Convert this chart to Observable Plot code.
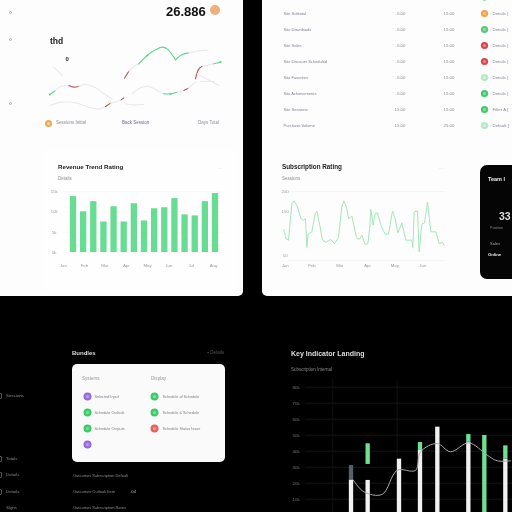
<!DOCTYPE html>
<html><head><meta charset="utf-8">
<script src="https://cdn.jsdelivr.net/npm/d3@7"></script>
<script src="https://cdn.jsdelivr.net/npm/@observablehq/plot@0.6"></script>
<style>
html,body{margin:0;padding:0;background:#000;overflow:hidden}
#root{position:relative;width:512px;height:512px;overflow:hidden;background:#000;font-family:"Liberation Sans",Arial,sans-serif}
#root>*{position:absolute}
.p{position:absolute;background:#fdfdfd}
.t{position:absolute;white-space:nowrap;line-height:1}
svg{background:transparent!important;display:block}
</style></head><body><div id="root"></div>
<script>
// ---- bar chart
const barValues=[13.75,10,12.5,7.5,11.25,7.5,12,7.75,10.75,11,13.25,9.25,9,12.5,14.5];
const barTickIdx=[-1,1.07,3.1,5.2,7.3,9.4,11.6,13.8];
const barTickLabels=["Jan","Feb","Mar","Apr","May","Jun","Jul","Aug"];
const barYTicks=[0,5,10,15];
const barYLabels=["0k","5k","10k","15k"];
// ---- spike line chart
const spikeT=[64,70,78,88,95,105,115,122,129,133,137,148,158,163,170,180,190,205,216,228,238,244,252,258,268,282,290,298,308,316,322,325,332,338,345,355,368,378,390,398,406,418,430,448,451,455,465,470,478,486,495,505,520,530,540,545];
const spikeV=[81,53,48,162,171,152,115,110,115,25,67,74,131,139,105,48,41,50,37,56,152,171,152,115,123,56,50,63,34,37,89,144,95,131,133,95,66,67,139,115,71,102,48,48,25,136,139,11,98,102,167,74,74,37,41,32];
const spikeTickT=[68,148,232,315,397,481];
const spikeTickLabels=["Jan","Feb","Mar","Apr","May","Jun"];
const spikeYTicks=[0,137,200];
const spikeYLabels=["10","150","200"];
// ---- top multi-line chart
const green="#5fd68a",red="#b5544e",gray="#e9e9ee";
const topSegments=[
 [red,[372,385],[157,178]],[gray,[385,400,415],[178,192,200]],
 [green,[415,440,465,485,500,525],[200,225,242,250,245,212]],
 [green,[525,545,565],[212,228,233]],[gray,[565,590,620],[233,238,242]],
 [green,[148,165],[108,120]],[gray,[165,180,205],[120,132,135]],[red,[205,220,235],[135,130,133]],
 [gray,[235,255,285,310,335],[133,138,128,110,95]],
 [gray,[395,420,445,470,490],[110,128,132,120,110]],[green,[490,510,530],[110,110,115]],
 [gray,[530,550],[115,120]],[red,[550,563],[120,127]],[gray,[563,585],[127,145]],
 [red,[585,595,605],[155,185,193]],[gray,[605,640],[193,200]],[green,[640,660],[200,205]],
 [gray,[148,185,230,265,295,315],[75,85,82,70,65,72]],[red,[315,330],[72,82]],[gray,[330,360],[82,90]],
 [red,[362,370],[92,98]],[gray,[370,385,430],[85,78,78]],
 [gray,[160,185],[190,165]],[gray,[590,655],[170,135]],[gray,[600,640],[147,147]]
];
// ---- table
const tableNames=["Site Subtotal","Site Downloads","Site Sales","Site Discount Scheduled","Site Favorites","Site Achievements","Site Sessions","Purchase Volume"];
const tableCol2=["0.00","0.00","0.00","0.00","0.00","0.00","15.00","15.00"];
const tableCol3=["15.00","15.00","15.00","15.00","15.00","15.00","15.00","25.00"];
const tableStatus=["Details [","Details [","Details [","Details [","Details [","Details [","Filter A [","Default ["];
const tableColors=["#f0a33c","#58c878","#d8434c","#d8434c","#b4eac4","#3ecb6a","#3ecb6a","#b4eac4"];
// ---- card list
const cardLeftLabels=["Selected Input","Schedule Outlook","Schedule Outputs",""];
const cardLeftColors=["#9a6be0","#3ecb6a","#3ecb6a","#9a6be0"];
const cardRightLabels=["Schedule of Schedule","Schedule & Schedule","Schedule Status Issue"];
const cardRightColors=["#3ecb6a","#3ecb6a","#e8635c"];
// ---- dark chart
const darkYTicks=[10,20,30,40,50,60,70,80];
const darkGridT=[187,380];
const darkBars=[243,293,387,450,502,595,643,706];
const darkWhiteTop=[22,21.7,35,40.4,55,45.6,0,35];
const darkGreenLow=[22,31.7,35,40.4,55,45.6,0,35];
const darkGreenTop=[22,44.6,35,45.4,55,50.4,49.8,43.3];
const darkLineT=[248,280,335,380,435,450,500,540,595,650,680,720];
const darkLineV=[22,14.6,13,28,28,39.6,44.8,39.6,45.2,37.5,34,34];

const root=document.getElementById("root");
function panel(x,y,w,h,bg,radius,extra){const d=document.createElement("div");d.className="p";
 d.style.cssText=`left:${x}px;top:${y}px;width:${w}px;height:${h}px;background:${bg};border-radius:${radius||"0"};${extra||""}`;root.appendChild(d);}
function text(x,y,s,size,color,weight,anchor){const d=document.createElement("div");d.className="t";d.textContent=s;
 d.style.cssText=`left:${x}px;top:${y-size/2}px;font-size:${size}px;color:${color};font-weight:${weight||400};${anchor=="end"?"transform:translateX(-100%);":""}`;root.appendChild(d);}
function place(x,y,plot){plot.style.position="absolute";plot.style.left=x+"px";plot.style.top=y+"px";root.appendChild(plot);}
const base={style:{background:"transparent",fontFamily:"Liberation Sans"},axis:null};

// panels
panel(0,0,243,296,"#fdfdfd","0 0 5px 0");
panel(262,0,250,296,"#fdfdfd","0 0 0 5px");
panel(44,150,192,140,"#fefefe","4px");
panel(72,364,153,98,"#fafafa","5px");
panel(480,165,40,114,"#050505","7px");

// top-left chart
const topData=topSegments.flatMap(([c,t,v],i)=>t.map((x,j)=>({x,y:v[j],c,i})));
place(0,0,Plot.plot({...base,width:256,height:140,margin:0,
 x:{domain:[0,768],range:[0,256]},y:{domain:[0,390],range:[130,0]},
 marks:[Plot.line(topData,{x:"x",y:"y",z:"i",stroke:"c",strokeWidth:1.1,curve:"catmull-rom"}),
  Plot.dot(topData.filter(d=>d.c==green&&(d.x==148||d.x==660||d.x==440||d.x==510)),{x:"x",y:"y",r:1.1,fill:green})]}));
text(166,11,"26.886",13,"#111",700);
panel(210,5,10,10,"#eeb07c","50%");
text(50,41,"thd",8.5,"#222",700);
text(65.5,59,"0",6,"#223",700);
[[10,12],[10,39],[10,103]].forEach(([x,y])=>panel(x-1.5,y-1.5,3,3,"transparent","50%","box-sizing:border-box;border:1px solid #aaa;"));
panel(45,120,7,7,"#f0a850","50%");panel(47,122,3,3,"#fbd9a8","50%");
text(56,123,"Sessions Initial",4.5,"#8a8f9c");
text(122,123,"Back Session",4.5,"#6a6f90");
text(219,123,"Days Total",4.5,"#8a8f9c",400,"end");

// table
const rowIdx=d3.range(tableNames.length);
const tx=(arr)=>i=>arr[i];
place(256,0,Plot.plot({...base,width:256,height:140,margin:0,
 x:{domain:[0,256],range:[0,256]},y:{domain:[-1,7],range:[-3,125]},
 marks:[
  Plot.text(rowIdx,{x:()=>27,y:d=>d,text:tx(tableNames),textAnchor:"start",fontSize:4,fill:"#7d828e"}),
  Plot.text(rowIdx,{x:()=>149,y:d=>d,text:tx(tableCol2),textAnchor:"end",fontSize:4.4,fill:"#858a96"}),
  Plot.text(rowIdx,{x:()=>198,y:d=>d,text:tx(tableCol3),textAnchor:"end",fontSize:4.4,fill:"#858a96"}),
  Plot.dot(rowIdx,{x:()=>228,y:d=>d,r:3.6,fill:tx(tableColors)}),
  Plot.dot(rowIdx,{x:()=>228,y:d=>d,r:1.5,fill:"#fff",fillOpacity:.4}),
  Plot.dot([-1],{x:()=>228,y:d=>d,r:3,fill:"#58c878"}),
  Plot.text(rowIdx,{x:()=>236,y:d=>d,text:tx(tableStatus),textAnchor:"start",fontSize:4.4,fill:"#858a96"})
 ]}));

// bar chart
text(58,167,"Revenue Trend Rating",6.2,"#222",700);
text(58,179,"Details",4.5,"#8d8f98");
text(217,168,"···",5,"#ccc");
const barIdx=d3.range(barValues.length);
place(44,180,Plot.plot({...base,width:190,height:95,marginTop:11,marginBottom:23,marginLeft:0,marginRight:0,
 x:{domain:[0,14],range:[29,171]},y:{domain:[0,15],range:[72,11]},
 marks:[
  Plot.ruleY(barYTicks,{y:d=>d,x1:-1,x2:14.7,stroke:"#f5f5f5",strokeWidth:.6}),
  Plot.rectY(barIdx,{x1:i=>i-.31,x2:i=>i+.31,y1:0,y2:i=>barValues[i],fill:"#66dd92"}),
  Plot.text(barYTicks,{x:()=>-1.9,y:d=>d,text:(d,i)=>barYLabels[i],textAnchor:"middle",fontSize:4.3,fill:"#9a9a9a"}),
  Plot.text(barTickIdx,{x:d=>d,y:()=>-3.3,text:(d,i)=>barTickLabels[i],fontSize:4.3,fill:"#9a9a9a"})
 ]}));

// spike chart
text(282,167,"Subscription Rating",6.3,"#222",700);
text(282,179,"Sessions",4.5,"#8d8f98");
text(439,168,"···",5,"#ccc");
const spikeData=spikeT.map((t,i)=>({t,v:spikeV[i]}));
place(262,180,Plot.plot({...base,width:190,height:95,margin:0,
 x:{domain:[0,570],range:[0,190]},y:{domain:[0,200],range:[75,11]},
 marks:[
  Plot.ruleY([200,-16],{x1:78,x2:548,stroke:"#f1f1f1",strokeWidth:.7}),
  Plot.line(spikeData,{x:"t",y:"v",stroke:"#a5e6bb",strokeWidth:1}),
  Plot.text(spikeYTicks,{x:()=>68,y:d=>d,text:(d,i)=>spikeYLabels[i],fontSize:4.3,fill:"#9a9a9a"}),
  Plot.text(spikeTickT,{x:d=>d,y:()=>-31,text:(d,i)=>spikeTickLabels[i],fontSize:4.3,fill:"#9a9a9a"})
 ]}));

// phone card text
text(488,180,"Team l",5.5,"#eee",700);
text(499,216,"33",10.5,"#ddd",700);
text(490,229,"Position",3.6,"#888");
text(490,244,"Sales",4,"#aaa");
text(488,255,"Online",4.2,"#eee",700);

// bottom-left
text(72,353,"Bundles",6,"#ddd",700);
text(224,353,"▪ Details",4.5,"#555",400,"end");
text(82,379,"Systems",4.6,"#9a9aa2");
text(151,379,"Display",4.6,"#9a9aa2");
place(72,364,Plot.plot({...base,width:153,height:98,margin:0,
 x:{domain:[0,153],range:[0,153]},y:{domain:[0,3],range:[32,80]},
 marks:[
  Plot.dot(cardLeftColors,{x:()=>15,y:(d,i)=>i,r:4,fill:d=>d}),
  Plot.dot(cardRightColors,{x:()=>82,y:(d,i)=>i,r:4,fill:d=>d}),
  Plot.dot(cardLeftColors,{x:()=>15,y:(d,i)=>i,r:1.6,fill:"#fff",fillOpacity:.35}),
  Plot.dot(cardRightColors,{x:()=>82,y:(d,i)=>i,r:1.6,fill:"#fff",fillOpacity:.35}),
  Plot.text(cardLeftLabels,{x:()=>22,y:(d,i)=>i,text:d=>d,textAnchor:"start",fontSize:3.8,fill:"#7c7c88"}),
  Plot.text(cardRightLabels,{x:()=>90,y:(d,i)=>i,text:d=>d,textAnchor:"start",fontSize:3.8,fill:"#7c7c88"})
 ]}));
[["Outcomes Subscription Default",476],["Outcomes Outlook Item",492],["Outcomes Subscription Rates",508]].forEach(([s,y])=>text(73,y,s,4,"#8a8a8a"));
text(130,492,".04",4.4,"#aaa");
[["Sessions",396],["Totals",459],["Details",475],["Details",492],["Signs",508]].forEach(([s,y])=>text(6,y,s,4.4,"#888"));
[396,459,475,492].forEach(y=>panel(-1,y-3,2.5,6,"transparent","1px","box-sizing:border-box;border:.7px solid #555;"));

// dark chart
text(291,353,"Key Indicator Landing",7,"#ddd",700);
text(291,370,"Subscription Internal",4.5,"#888");
const darkIdx=d3.range(darkBars.length);
const W=6.5;
place(270,340,Plot.plot({...base,width:242,height:172,margin:0,
 x:{domain:[0,726],range:[0,242]},y:{domain:[10,80],range:[158.67,46.67]},
 marks:[
  Plot.ruleY(darkYTicks,{x1:105,x2:726,stroke:"#1c1c1c",strokeWidth:.8}),
  Plot.ruleX(darkGridT,{y1:0,y2:85,stroke:"#131313",strokeWidth:.8}),
  Plot.text(darkYTicks,{x:()=>77,y:d=>d,text:d=>d+"k",fontSize:4.4,fill:"#777"}),
  Plot.rectY(darkIdx,{x1:i=>darkBars[i]-W,x2:i=>darkBars[i]+W,y1:0,y2:i=>darkWhiteTop[i],fill:"#f1f1f1"}),
  Plot.rectY(darkIdx,{x1:i=>darkBars[i]-W,x2:i=>darkBars[i]+W,y1:i=>darkGreenLow[i],y2:i=>darkGreenTop[i],fill:"#6fe08f"}),
  Plot.rectY([0],{x1:darkBars[0]-W,x2:darkBars[0]+W,y1:22,y2:31,fill:"#5a5f66"}),
  Plot.line(darkLineT.map((t,i)=>({t,v:darkLineV[i]})),{x:"t",y:"v",stroke:"#a8a8a8",strokeWidth:1,curve:"catmull-rom"})
 ]}));
root.style.filter="blur(0.4px)";
</script></body></html>
